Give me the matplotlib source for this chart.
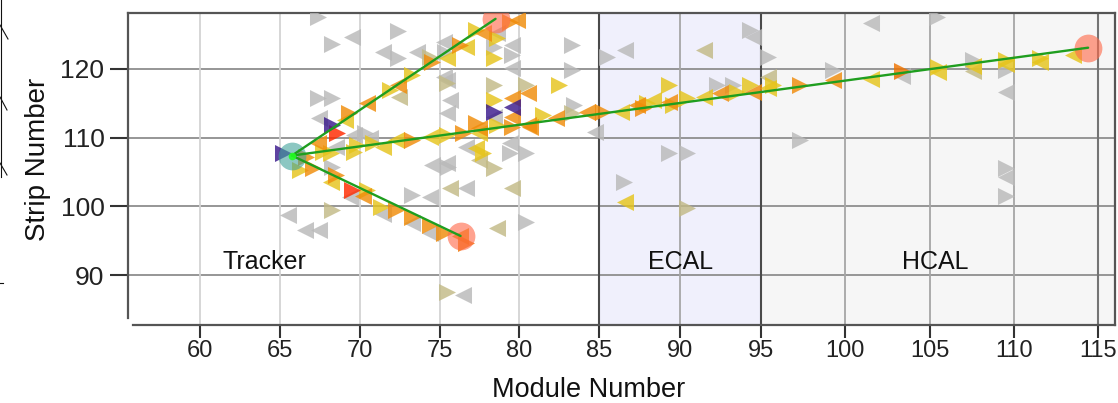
import matplotlib
matplotlib.use("Agg")
import matplotlib.pyplot as plt
from matplotlib.lines import Line2D
import numpy as np

plt.rcParams["font.family"] = ["Liberation Sans", "DejaVu Sans"]

# ---- detector hits: module, strip, pointing direction, category ----
# (each row of the four lists below describes the same six hits)
hit_module = [
    65.21, 66.64, 66.23, 67.36, 67.66, 68.48,
    67.05, 68.18, 68.28, 68.48, 68.18, 69.50,
    69.40, 70.42, 70.22, 71.34, 71.45, 72.26,
    73.28, 74.41, 73.28, 73.28, 74.41, 74.41,
    75.23, 76.25, 76.66, 65.52, 66.54, 67.46,
    68.28, 74.51, 75.53, 75.64, 76.66, 75.43,
    76.45, 67.36, 68.28, 69.50, 72.36, 71.45,
    72.36, 73.59, 74.41, 75.23, 75.33, 75.23,
    75.43, 67.36, 68.28, 67.46, 68.28, 68.58,
    70.32, 70.63, 69.61, 69.81, 69.61, 69.30,
    69.09, 70.42, 71.85, 72.36, 72.47, 73.28,
    74.51, 75.43, 76.25, 76.66, 77.27, 77.68,
    79.42, 79.82, 78.60, 78.39, 78.39, 78.60,
    79.52, 79.52, 79.52, 70.83, 71.45, 72.26,
    73.28, 74.41, 75.43, 76.45, 77.47, 78.60,
    79.52, 80.64, 77.27, 77.47, 81.46, 82.28,
    83.30, 83.40, 84.22, 85.20, 86.31, 87.32,
    87.92, 87.72, 88.32, 89.33, 89.53, 90.44,
    91.45, 92.26, 92.46, 93.27, 93.47, 94.28,
    94.48, 95.37, 95.37, 95.67, 89.33, 97.32,
    99.27, 99.27, 101.51, 103.36, 103.36, 105.50,
    105.50, 107.54, 107.54, 107.54, 109.49, 109.49,
    109.49, 111.53, 111.53, 113.48, 109.49, 109.49,
    109.49, 109.49, 101.51, 105.40, 97.32, 94.28,
    94.48, 91.45, 95.37, 89.33, 90.44, 90.44,
    86.51, 86.61, 83.30, 83.30, 85.50, 86.61,
    84.73, 82.48, 80.44, 80.54, 78.39, 78.39,
    79.52, 78.39, 79.52, 78.39, 79.52, 80.54,
    77.27, 79.42, 80.44, 78.39, 79.52, 80.44,
    78.60, 75.43, 75.64, 75.43, 76.66, 77.68,
    77.47, 79.42, 75.43,
]
hit_strip = [
    107.8, 107.2, 105.3, 109.2, 107.9, 108.6,
    105.6, 107.8, 105.7, 104.6, 103.6, 102.4,
    101.4, 102.4, 101.5, 99.9, 98.9, 99.5,
    101.7, 101.4, 98.5, 97.6, 97.3, 96.1,
    96.1, 95.7, 94.7, 98.7, 96.6, 96.6,
    99.5, 106.0, 105.7, 102.7, 102.7, 87.5,
    87.1, 127.6, 123.6, 124.7, 125.5, 122.5,
    121.6, 122.5, 121.7, 123.9, 122.5, 118.8,
    118.0, 115.8, 115.8, 112.9, 111.8, 110.7,
    110.7, 110.0, 110.4, 108.9, 107.9, 113.6,
    112.6, 115.1, 116.9, 117.7, 115.9, 119.1,
    121.0, 121.6, 123.5, 123.2, 125.7, 125.2,
    126.8, 127.1, 125.2, 123.2, 121.6, 124.5,
    123.5, 122.0, 120.1, 109.2, 108.6, 109.7,
    109.7, 110.1, 110.4, 110.7, 111.4, 111.8,
    111.6, 111.6, 112.1, 110.7, 113.3, 112.9,
    113.6, 114.8, 113.7, 113.7, 113.7, 114.8,
    115.1, 114.3, 115.5, 115.2, 114.8, 115.8,
    115.9, 117.7, 116.5, 117.7, 116.7, 117.7,
    116.7, 118.8, 117.2, 117.7, 117.7, 117.7,
    119.9, 118.4, 118.5, 119.7, 119.0, 120.3,
    119.6, 121.3, 120.4, 119.7, 121.3, 119.9,
    120.7, 121.0, 121.6, 122.0, 116.7, 105.6,
    104.3, 101.5, 126.7, 127.6, 109.7, 125.7,
    124.7, 122.8, 121.7, 107.8, 107.8, 99.8,
    103.6, 100.6, 123.5, 119.9, 121.7, 122.8,
    110.8, 117.7, 117.7, 116.5, 117.7, 115.5,
    115.8, 113.7, 114.5, 113.0, 113.0, 111.8,
    108.5, 107.8, 107.8, 105.6, 102.7, 97.7,
    96.9, 113.6, 115.5, 118.4, 108.6, 107.8,
    106.8, 109.2, 106.3,
]
hit_dir = list(
    ">>><><"
    ">>>><>"
    "<><><>"
    "><><><"
    "><><<<"
    "><><<>"
    "<>><><"
    "><><><"
    ">>><>>"
    "><<>>>"
    "<<><<>"
    "><><><"
    "><<>>>"
    "<><><<"
    "><>><>"
    "><><><"
    ">><><<"
    ">><<>>"
    "<><>>>"
    "<<<>>>"
    "><<><>"
    "<><<>>"
    "<<><<>"
    "<><>>>"
    "<<>>>>"
    "><>>><"
    "<>><>>"
    "<><<<<"
    "<>>><>"
    "<<<<<>"
    "<<<"
)
hit_kind = list(
    "POYOYG"
    "OYGOYR"
    "GYOYGO"
    "GGOGOG"
    "OODGGG"
    "KGGKGK"
    "GGGGGG"
    "GGKGGG"
    "KGGGPR"
    "GGGYYO"
    "YOYOKY"
    "OYOYYO"
    "OOGGYY"
    "GGGYYY"
    "OYYOOY"
    "OOOYYO"
    "KGOOYO"
    "YOYOYY"
    "YGOGYY"
    "OKYYYO"
    "GOYDGY"
    "YGYKYG"
    "YYYYGG"
    "GGGGGG"
    "GKGGGK"
    "GYGGGG"
    "GYKOKY"
    "OPPGOO"
    "YGGKKG"
    "KGGGGY"
    "KGG"
)

# ---- reconstructed tracks ----
vertex_module, vertex_strip = 65.75, 107.4
end_module = [78.5, 76.3, 114.4]
end_strip = [127.3, 95.7, 123.1]

# ---- detector regions ----
region_names = ["Tracker", "ECAL", "HCAL"]
region_label_x = [64.06, 90.0, 105.3]
region_label_y = 91.9

x_ticks = [60, 65, 70, 75, 80, 85, 90, 95, 100, 105, 110, 115]
y_ticks = [90, 100, 110, 120]

# module axis: spacing grows slightly from tracker to calorimeters
axis_modules = [50, 60, 65, 70, 75, 80, 85, 90, 95, 100, 105, 110, 115, 125]
axis_spacing = [39.5, 199.5, 279.5, 359.5, 439.5, 519, 599, 680, 761, 845, 929.5, 1014, 1098, 1266]


def module_fwd(v):
    return np.interp(v, axis_modules, axis_spacing)


def module_inv(v):
    return np.interp(v, axis_spacing, axis_modules)


kind_colors = {
    "G": "#b9b9b9",
    "K": "#c2ba86",
    "Y": "#e6c41c",
    "O": "#f08c0a",
    "D": "#f07400",
    "R": "#ff2a00",
    "P": "#3a1a8c",
}
kind_order = ["G", "K", "Y", "O", "D", "R", "P"]

W, H = 1118, 403
fig = plt.figure(figsize=(W / 100, H / 100), dpi=100)
ax = fig.add_axes([128 / W, 1 - 325 / H, (1115 - 128) / W, (325 - 13) / H])

ax.set_xscale("function", functions=(module_fwd, module_inv))
xmin, xmax = 55.5, 116.0
ymin, ymax = 82.74, 128.15
ax.set_xlim(xmin, xmax)
ax.set_ylim(ymin, ymax)

# region shading
ax.axvspan(85, 95, color="#f0f0fc", zorder=0, lw=0)
ax.axvspan(95, xmax, color="#f6f6f6", zorder=0, lw=0)

# grid
for yv in y_ticks:
    ax.axhline(yv, color="#8e8e8e", lw=1.3, zorder=1)
for xv in x_ticks:
    if xv in (85, 95):
        c, lw = "#4a4a4a", 1.5
    elif xv < 85:
        c, lw = "#d3d3d3", 1.3
    elif xv == 115:
        c, lw = "#747474", 1.5
    else:
        c, lw = "#a6a6a6", 1.3
    ax.axvline(xv, color=c, lw=lw, zorder=1)

# hits
mods = np.array(hit_module)
strips = np.array(hit_strip)
dirs = np.array(hit_dir)
kinds = np.array(hit_kind)
for z, k in enumerate(kind_order):
    for d in (">", "<"):
        m = (kinds == k) & (dirs == d)
        if m.any():
            ax.scatter(mods[m], strips[m], marker=d, s=150, c=kind_colors[k],
                       alpha=0.82, linewidths=0, zorder=3 + z)

# tracks
for em, es in zip(end_module, end_strip):
    ax.plot([vertex_module, em], [vertex_strip, es], color="#1f9e1f", lw=1.7,
            zorder=12, solid_capstyle="round")
ax.scatter(end_module, end_strip, s=400, c="#ff6a4a", alpha=0.62, linewidths=0, zorder=11)
ax.scatter([vertex_module], [vertex_strip], s=400, c="#3fa39a", alpha=0.6, linewidths=0, zorder=11)
ax.scatter([vertex_module], [vertex_strip], s=30, c="#22ff22", alpha=0.9, linewidths=0, zorder=13)

# region labels
for name, lx in zip(region_names, region_label_x):
    ax.text(lx, region_label_y, name, ha="center", va="center", fontsize=18,
            color="#111111", zorder=14)

# axes styling
ax.set_xticks(x_ticks)
ax.set_xticklabels([str(t) for t in x_ticks])
ax.set_yticks(y_ticks)
ax.tick_params(axis="x", which="minor", length=0)
ax.tick_params(axis="x", length=9, width=1.5, color="#333333", pad=2,
               labelsize=17, labelcolor="#222222")
ax.tick_params(axis="y", length=13, width=1.5, color="#333333", pad=4,
               labelsize=19, labelcolor="#222222")
for side in ("top", "right", "left", "bottom"):
    ax.spines[side].set_color("#555555")
    ax.spines[side].set_linewidth(1.6)
ax.spines["left"].set_bounds(83.76, ymax)
ax.spines["bottom"].set_bounds(55.84, xmax)

fig.text(589 / W, 1 - 390 / H, "Module Number", ha="center", va="center",
         fontsize=19.5, color="#111111")
fig.text(38 / W, 1 - 159 / H, "Strip Number", ha="center", va="center",
         rotation=90, fontsize=20, color="#111111")

# thin strokes along the left page edge
edge_lines = [
    ([0.5, 0.5], [0, 177]),
    ([0, 8], [25, 39]),
    ([0, 7], [97, 110]),
    ([0, 7], [163, 175]),
    ([0, 3], [283, 283]),
]
for xs, ys in edge_lines:
    fig.add_artist(Line2D([x / W for x in xs], [1 - y / H for y in ys],
                          color="#111111", lw=0.8, transform=fig.transFigure))

fig.savefig("out.png", dpi=100)
